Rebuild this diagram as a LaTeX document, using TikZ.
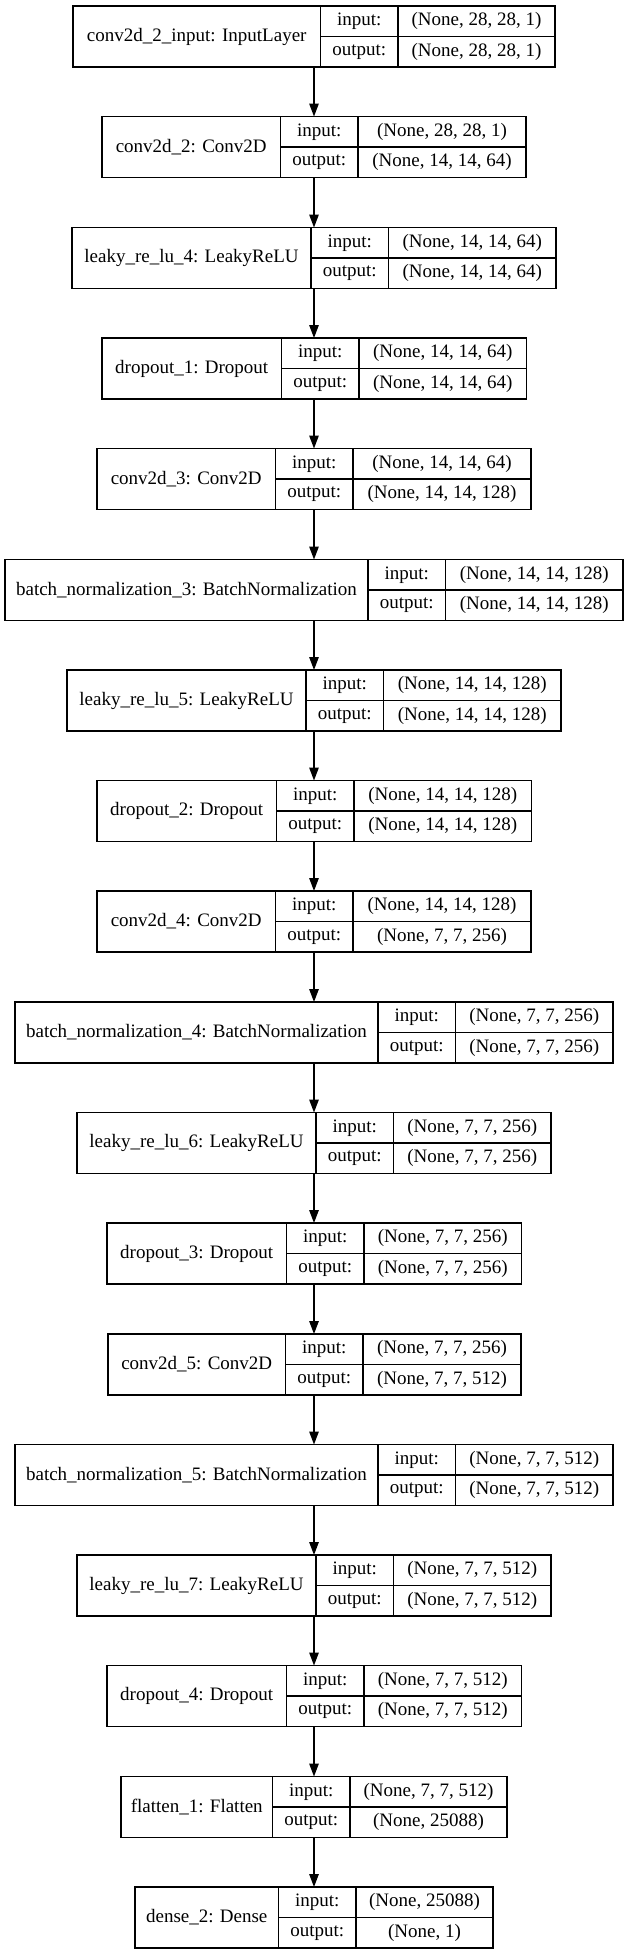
\documentclass[tikz,border=0pt]{standalone}
\usepackage{fontspec}
\setmainfont{Liberation Serif}
\usepackage{tikz}
\usetikzlibrary{arrows.meta}

\begin{document}
\begin{tikzpicture}[x=1pt,y=-1pt,
  font=\fontsize{19}{22}\selectfont,
  namebox/.style={draw, line width=1.3pt, anchor=north west, inner sep=0pt, outer sep=0pt, minimum height=61pt},
  field/.style={draw, line width=1.3pt, anchor=north west, inner sep=0pt, outer sep=0pt, minimum height=30.5pt},
  arr/.style={line width=1.3pt, -{Triangle[length=13pt,width=9.5pt]}}]

\useasboundingbox (0,0) rectangle (625,1955);
\coordinate (mid) at (314,0);

\node[namebox, minimum width=247.5pt] (input) at (73,6) {conv2d\_2\_input: InputLayer};
\node[field, minimum width=77.5pt] (input-i) at (320.5,6) {input:};
\node[field, minimum width=77.5pt] (input-o) at (320.5,36.5) {output:};
\node[field, minimum width=157pt] (input-iv) at (398,6) {(None, 28, 28, 1)};
\node[field, minimum width=157pt] (input-ov) at (398,36.5) {(None, 28, 28, 1)};

\node[namebox, minimum width=178.5pt] (conv2) at (102,116.5) {conv2d\_2: Conv2D};
\node[field, minimum width=77.5pt] (conv2-i) at (280.5,116.5) {input:};
\node[field, minimum width=77.5pt] (conv2-o) at (280.5,147) {output:};
\node[field, minimum width=168pt] (conv2-iv) at (358,116.5) {(None, 28, 28, 1)};
\node[field, minimum width=168pt] (conv2-ov) at (358,147) {(None, 14, 14, 64)};

\node[namebox, minimum width=239pt] (lrelu4) at (72,227.5) {leaky\_re\_lu\_4: LeakyReLU};
\node[field, minimum width=77.5pt] (lrelu4-i) at (311,227.5) {input:};
\node[field, minimum width=77.5pt] (lrelu4-o) at (311,258) {output:};
\node[field, minimum width=167.5pt] (lrelu4-iv) at (388.5,227.5) {(None, 14, 14, 64)};
\node[field, minimum width=167.5pt] (lrelu4-ov) at (388.5,258) {(None, 14, 14, 64)};

\node[namebox, minimum width=179.5pt] (drop1) at (102,338) {dropout\_1: Dropout};
\node[field, minimum width=77.5pt] (drop1-i) at (281.5,338) {input:};
\node[field, minimum width=77.5pt] (drop1-o) at (281.5,368.5) {output:};
\node[field, minimum width=167.5pt] (drop1-iv) at (359,338) {(None, 14, 14, 64)};
\node[field, minimum width=167.5pt] (drop1-ov) at (359,368.5) {(None, 14, 14, 64)};

\node[namebox, minimum width=178.5pt] (conv3) at (97,448.5) {conv2d\_3: Conv2D};
\node[field, minimum width=77.5pt] (conv3-i) at (275.5,448.5) {input:};
\node[field, minimum width=77.5pt] (conv3-o) at (275.5,479) {output:};
\node[field, minimum width=178pt] (conv3-iv) at (353,448.5) {(None, 14, 14, 64)};
\node[field, minimum width=178pt] (conv3-ov) at (353,479) {(None, 14, 14, 128)};

\node[namebox, minimum width=363pt] (bn3) at (5,559.5) {batch\_normalization\_3: BatchNormalization};
\node[field, minimum width=77.5pt] (bn3-i) at (368,559.5) {input:};
\node[field, minimum width=77.5pt] (bn3-o) at (368,590) {output:};
\node[field, minimum width=177.5pt] (bn3-iv) at (445.5,559.5) {(None, 14, 14, 128)};
\node[field, minimum width=177.5pt] (bn3-ov) at (445.5,590) {(None, 14, 14, 128)};

\node[namebox, minimum width=239pt] (lrelu5) at (67,670) {leaky\_re\_lu\_5: LeakyReLU};
\node[field, minimum width=77.5pt] (lrelu5-i) at (306,670) {input:};
\node[field, minimum width=77.5pt] (lrelu5-o) at (306,700.5) {output:};
\node[field, minimum width=177.5pt] (lrelu5-iv) at (383.5,670) {(None, 14, 14, 128)};
\node[field, minimum width=177.5pt] (lrelu5-ov) at (383.5,700.5) {(None, 14, 14, 128)};

\node[namebox, minimum width=179.5pt] (drop2) at (97,780.5) {dropout\_2: Dropout};
\node[field, minimum width=77.5pt] (drop2-i) at (276.5,780.5) {input:};
\node[field, minimum width=77.5pt] (drop2-o) at (276.5,811) {output:};
\node[field, minimum width=177.5pt] (drop2-iv) at (354,780.5) {(None, 14, 14, 128)};
\node[field, minimum width=177.5pt] (drop2-ov) at (354,811) {(None, 14, 14, 128)};

\node[namebox, minimum width=178.5pt] (conv4) at (97,891) {conv2d\_4: Conv2D};
\node[field, minimum width=77.5pt] (conv4-i) at (275.5,891) {input:};
\node[field, minimum width=77.5pt] (conv4-o) at (275.5,921.5) {output:};
\node[field, minimum width=178pt] (conv4-iv) at (353,891) {(None, 14, 14, 128)};
\node[field, minimum width=178pt] (conv4-ov) at (353,921.5) {(None, 7, 7, 256)};

\node[namebox, minimum width=363pt] (bn4) at (15,1002) {batch\_normalization\_4: BatchNormalization};
\node[field, minimum width=77.5pt] (bn4-i) at (378,1002) {input:};
\node[field, minimum width=77.5pt] (bn4-o) at (378,1032.5) {output:};
\node[field, minimum width=157.5pt] (bn4-iv) at (455.5,1002) {(None, 7, 7, 256)};
\node[field, minimum width=157.5pt] (bn4-ov) at (455.5,1032.5) {(None, 7, 7, 256)};

\node[namebox, minimum width=239pt] (lrelu6) at (77,1112.5) {leaky\_re\_lu\_6: LeakyReLU};
\node[field, minimum width=77.5pt] (lrelu6-i) at (316,1112.5) {input:};
\node[field, minimum width=77.5pt] (lrelu6-o) at (316,1143) {output:};
\node[field, minimum width=157.5pt] (lrelu6-iv) at (393.5,1112.5) {(None, 7, 7, 256)};
\node[field, minimum width=157.5pt] (lrelu6-ov) at (393.5,1143) {(None, 7, 7, 256)};

\node[namebox, minimum width=179.5pt] (drop3) at (107,1223) {dropout\_3: Dropout};
\node[field, minimum width=77.5pt] (drop3-i) at (286.5,1223) {input:};
\node[field, minimum width=77.5pt] (drop3-o) at (286.5,1253.5) {output:};
\node[field, minimum width=157.5pt] (drop3-iv) at (364,1223) {(None, 7, 7, 256)};
\node[field, minimum width=157.5pt] (drop3-ov) at (364,1253.5) {(None, 7, 7, 256)};

\node[namebox, minimum width=177.5pt] (conv5) at (108,1334) {conv2d\_5: Conv2D};
\node[field, minimum width=77.5pt] (conv5-i) at (285.5,1334) {input:};
\node[field, minimum width=77.5pt] (conv5-o) at (285.5,1364.5) {output:};
\node[field, minimum width=158pt] (conv5-iv) at (363,1334) {(None, 7, 7, 256)};
\node[field, minimum width=158pt] (conv5-ov) at (363,1364.5) {(None, 7, 7, 512)};

\node[namebox, minimum width=363pt] (bn5) at (15,1444.5) {batch\_normalization\_5: BatchNormalization};
\node[field, minimum width=77.5pt] (bn5-i) at (378,1444.5) {input:};
\node[field, minimum width=77.5pt] (bn5-o) at (378,1475) {output:};
\node[field, minimum width=157.5pt] (bn5-iv) at (455.5,1444.5) {(None, 7, 7, 512)};
\node[field, minimum width=157.5pt] (bn5-ov) at (455.5,1475) {(None, 7, 7, 512)};

\node[namebox, minimum width=239pt] (lrelu7) at (77,1555) {leaky\_re\_lu\_7: LeakyReLU};
\node[field, minimum width=77.5pt] (lrelu7-i) at (316,1555) {input:};
\node[field, minimum width=77.5pt] (lrelu7-o) at (316,1585.5) {output:};
\node[field, minimum width=157.5pt] (lrelu7-iv) at (393.5,1555) {(None, 7, 7, 512)};
\node[field, minimum width=157.5pt] (lrelu7-ov) at (393.5,1585.5) {(None, 7, 7, 512)};

\node[namebox, minimum width=179.5pt] (drop4) at (107,1665.5) {dropout\_4: Dropout};
\node[field, minimum width=77.5pt] (drop4-i) at (286.5,1665.5) {input:};
\node[field, minimum width=77.5pt] (drop4-o) at (286.5,1696) {output:};
\node[field, minimum width=157.5pt] (drop4-iv) at (364,1665.5) {(None, 7, 7, 512)};
\node[field, minimum width=157.5pt] (drop4-ov) at (364,1696) {(None, 7, 7, 512)};

\node[namebox, minimum width=151.5pt] (flat1) at (121,1776.5) {flatten\_1: Flatten};
\node[field, minimum width=77.5pt] (flat1-i) at (272.5,1776.5) {input:};
\node[field, minimum width=77.5pt] (flat1-o) at (272.5,1807) {output:};
\node[field, minimum width=157pt] (flat1-iv) at (350,1776.5) {(None, 7, 7, 512)};
\node[field, minimum width=157pt] (flat1-ov) at (350,1807) {(None, 25088)};

\node[namebox, minimum width=143.5pt] (dense2) at (135,1887) {dense\_2: Dense};
\node[field, minimum width=77.5pt] (dense2-i) at (278.5,1887) {input:};
\node[field, minimum width=77.5pt] (dense2-o) at (278.5,1917.5) {output:};
\node[field, minimum width=137pt] (dense2-iv) at (356,1887) {(None, 25088)};
\node[field, minimum width=137pt] (dense2-ov) at (356,1917.5) {(None, 1)};

\draw [arr] (input.south -| mid) -- (conv2.north -| mid);
\draw [arr] (conv2.south -| mid) -- (lrelu4.north -| mid);
\draw [arr] (lrelu4.south -| mid) -- (drop1.north -| mid);
\draw [arr] (drop1.south -| mid) -- (conv3.north -| mid);
\draw [arr] (conv3.south -| mid) -- (bn3.north -| mid);
\draw [arr] (bn3.south -| mid) -- (lrelu5.north -| mid);
\draw [arr] (lrelu5.south -| mid) -- (drop2.north -| mid);
\draw [arr] (drop2.south -| mid) -- (conv4.north -| mid);
\draw [arr] (conv4.south -| mid) -- (bn4.north -| mid);
\draw [arr] (bn4.south -| mid) -- (lrelu6.north -| mid);
\draw [arr] (lrelu6.south -| mid) -- (drop3.north -| mid);
\draw [arr] (drop3.south -| mid) -- (conv5.north -| mid);
\draw [arr] (conv5.south -| mid) -- (bn5.north -| mid);
\draw [arr] (bn5.south -| mid) -- (lrelu7.north -| mid);
\draw [arr] (lrelu7.south -| mid) -- (drop4.north -| mid);
\draw [arr] (drop4.south -| mid) -- (flat1.north -| mid);
\draw [arr] (flat1.south -| mid) -- (dense2.north -| mid);

\end{tikzpicture}
\end{document}
